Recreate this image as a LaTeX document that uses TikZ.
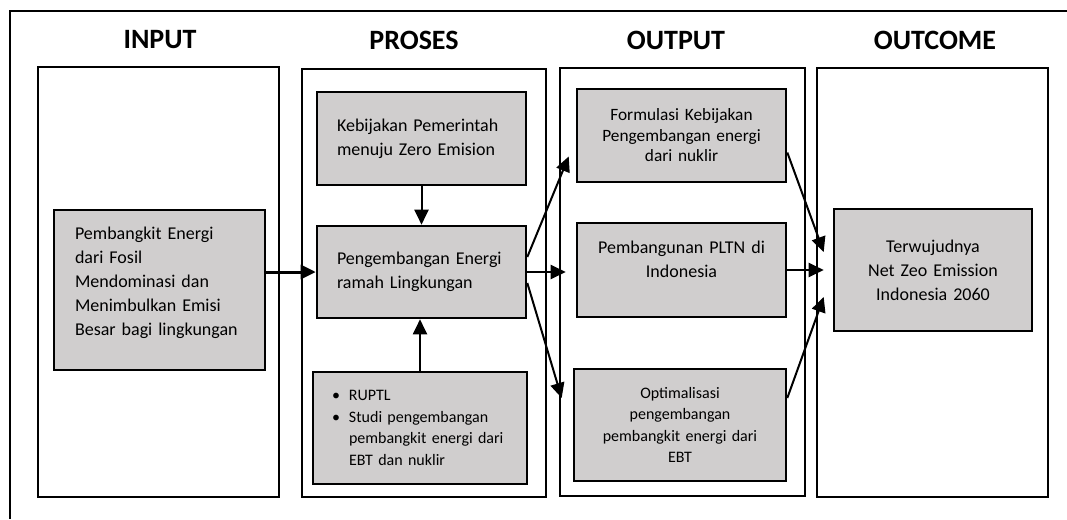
\documentclass[tikz,border=0pt]{standalone}
\usepackage{fontspec}
\setmainfont{Carlito}
\usetikzlibrary{arrows.meta}
\definecolor{boxgrey}{RGB}{208,206,206}

\begin{document}
\begin{tikzpicture}[
    x=1pt, y=-1pt,
    font=\fontsize{18}{24}\selectfont,
    outerframe/.style={draw, line width=2pt},
    colbox/.style={draw, line width=2pt},
    greybox/.style={draw, line width=2.6pt, fill=boxgrey, inner ysep=0pt},
    colhead/.style={font=\fontsize{28}{32}\selectfont\bfseries},
    smalltxt/.style={font=\fontsize{16}{21.6}\selectfont},
    arrow/.style={-{Triangle[length=15pt,width=14pt]}, line width=2pt},
    bigarrow/.style={-{Triangle[length=15pt,width=14pt]}, line width=3pt}
]
\useasboundingbox (0,0) rectangle (1067,519);

%--------
% outer frame (cut at right and bottom)
%--------
\draw[outerframe] (1067,11) -- (10,11) -- (10,519);

%--------
% column headings and column boxes
%--------
\node[colhead] (hin)  at (160,40) {INPUT};
\node[colhead] (hpro) at (414,40) {PROSES};
\node[colhead] (hout) at (676,40) {OUTPUT};
\node[colhead] (hoc)  at (935,40) {OUTCOME};

\draw[colbox] (38,67)  rectangle (279,497);
\draw[colbox] (302,69) rectangle (546,497);
\draw[colbox] (560,68) rectangle (805,496);
\draw[colbox] (817,68) rectangle (1048,497);

%--------
% INPUT
%--------
\node[greybox, inner xsep=21pt, text width=169pt, minimum height=160pt, align=left, text depth=113pt]
    (fosil) at (159.5,290) {Pembangkit Energi\\dari Fosil\\Mendominasi dan\\Menimbulkan Emisi\\Besar bagi lingkungan};

%--------
% PROSES
%--------
\node[greybox, inner xsep=20pt, text width=169pt, minimum height=93pt, align=left]
    (kebijakan) at (421.5,138.5) {Kebijakan Pemerintah\\menuju Zero Emision};
\node[greybox, inner xsep=20pt, text width=169pt, minimum height=92pt, align=left]
    (peng) at (421.5,272) {Pengembangan Energi\\ramah Lingkungan};
\node[greybox, smalltxt, inner xsep=19pt, text width=176pt, minimum height=112pt, align=left]
    (ruptl) at (420,428) {\makebox[17pt][l]{\textbullet}RUPTL\\
    \makebox[17pt][l]{\textbullet}Studi pengembangan\\
    \hspace*{17pt}pembangkit energi dari\\
    \hspace*{17pt}EBT dan nuklir};

%--------
% OUTPUT
%--------
\node[greybox, font=\fontsize{17.3}{20.5}\selectfont, inner xsep=10pt, text width=189pt,
      minimum height=93pt, align=center]
    (form) at (681.5,135.5) {Formulasi Kebijakan\\Pengembangan energi\\dari nuklir};
\node[greybox, inner xsep=10pt, text width=189pt, minimum height=94pt, align=center, text depth=46pt]
    (bangun) at (681.5,270) {Pembangunan PLTN di\\Indonesia};
\node[greybox, smalltxt, inner xsep=10pt, text width=192pt, minimum height=112pt, align=center]
    (optim) at (680,425) {Optimalisasi\\pengembangan\\pembangkit energi dari\\EBT};

%--------
% OUTCOME
%--------
\node[greybox, inner xsep=10pt, text width=178pt, minimum height=122pt, align=center]
    (outc) at (933,270) {Terwujudnya\\Net Zeo Emission\\Indonesia 2060};

% arrows into the process box
\draw[bigarrow] (fosil.east |- peng.west) -- (peng.west);
\draw[arrow] (kebijakan.south) -- (peng.north);
\draw[arrow] (ruptl.north) -- (ruptl.north |- peng.south);

% process to outputs
\draw[arrow] ([yshift=15pt]peng.east) -- ([xshift=-7pt, yshift=-21pt]form.west);
\draw[arrow] (peng.east) -- ([xshift=-10pt]bangun.west |- peng.east);
\draw[arrow] ([yshift=-11pt]peng.east) -- ([xshift=-11pt, yshift=27pt]optim.west);

% outputs to outcome
\draw[arrow] ([yshift=-17pt]form.east) -- ([xshift=-9pt, yshift=18pt]outc.west);
\draw[arrow] (bangun.east) -- ([xshift=-9pt]outc.west);
\draw[arrow] ([yshift=27pt]optim.east) -- ([xshift=-9pt, yshift=-27pt]outc.west);

\end{tikzpicture}
\end{document}
